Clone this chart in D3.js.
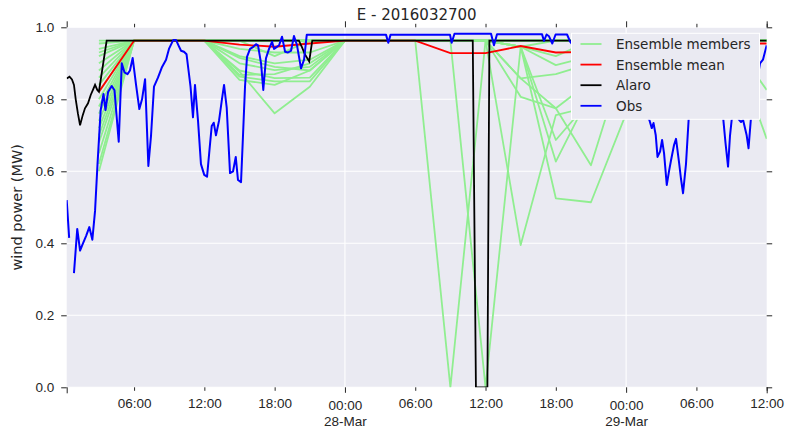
<!DOCTYPE html>
<html>
<head>
<meta charset="utf-8">
<script src="https://cdn.jsdelivr.net/npm/d3@7"></script>
<style>
  body { margin: 0; background: #ffffff; }
  svg { font-family: "DejaVu Sans", sans-serif; }
  .tick text { fill: #262626; font-size: 13.5px; }
  .tick line { stroke: #262626; }
</style>
</head>
<body>
<div id="chart"></div>
<script>
// Data (hours after 2016-03-27 00:00 UTC)
// ==============================
var obs = [
  [0.25, 0.52], [0.46, 0.415], [0.65, null], [0.87, 0.317], [1.15, 0.44], [1.39, 0.38],
  [1.64, 0.40], [1.90, 0.42], [2.18, 0.445], [2.44, 0.41], [2.67, 0.49], [2.88, 0.62],
  [3.15, 0.77], [3.39, 0.815], [3.56, 0.77], [3.78, 0.82], [4.09, 0.837], [4.33, 0.825],
  [4.69, 0.682], [4.95, 0.90], [5.18, 0.875], [5.44, 0.87], [5.65, 0.88], [5.88, 0.915],
  [6.17, 0.84], [6.45, 0.773], [6.68, 0.80], [6.94, 0.856], [7.22, 0.615], [7.45, 0.70],
  [7.70, 0.835], [8.04, 0.86], [8.39, 0.89], [8.73, 0.91], [8.98, 0.94], [9.35, 0.965],
  [9.58, 0.965], [9.79, 0.95], [10.01, 0.935], [10.26, 0.932], [10.48, 0.925], [10.65, 0.88],
  [10.82, 0.835], [11.03, 0.75], [11.20, 0.84], [11.46, 0.74], [11.71, 0.62], [11.99, 0.59],
  [12.23, 0.585], [12.44, 0.66], [12.63, 0.726], [12.80, 0.735], [12.99, 0.70], [13.25, 0.74],
  [13.50, 0.80], [13.68, 0.84], [13.91, 0.776], [14.19, 0.595], [14.45, 0.60], [14.68, 0.64],
  [14.87, 0.576], [15.13, 0.57], [15.30, 0.70], [15.47, 0.835], [15.64, 0.918], [15.90, 0.94],
  [16.15, 0.945], [16.41, 0.953], [16.58, 0.95], [16.84, 0.90], [17.03, 0.826], [17.26, 0.914],
  [17.52, 0.94], [17.78, 0.96], [17.95, 0.94], [18.16, 0.945], [18.38, 0.95], [18.63, 0.974],
  [18.89, 0.932], [19.14, 0.93], [19.40, 0.935], [19.65, 0.976], [19.91, 0.95], [20.25, 0.886],
  [20.51, 0.91], [20.74, 0.979], [27.51, 0.979], [27.70, 0.957], [27.89, 0.979], [32.97, 0.979],
  [33.11, 0.957], [33.35, 0.982], [36.47, 0.982], [36.72, 0.95], [36.98, 0.981], [40.82, 0.981],
  [40.99, 0.962], [41.21, 0.98], [41.42, 0.975], [41.70, 0.955], [41.98, 0.98], [42.96, 0.98],
  [43.22, 0.96], [43.47, 0.95], [44.50, 0.93], [45.78, 0.90], [47.06, 0.86], [48.34, 0.85],
  [49.19, 0.80], [49.62, 0.76], [49.98, 0.743], [50.19, 0.72], [50.34, 0.734], [50.53, 0.70],
  [50.68, 0.64], [50.90, 0.655], [51.07, 0.687], [51.24, 0.65], [51.47, 0.562], [51.66, 0.60],
  [51.83, 0.63], [52.09, 0.673], [52.26, 0.69], [52.51, 0.627], [52.68, 0.58], [52.86, 0.539],
  [53.11, 0.62], [53.33, 0.74], [53.54, 0.85], [53.88, 0.93], [54.31, 0.95], [54.74, 0.94],
  [55.16, 0.90], [55.59, 0.88], [56.02, 0.82], [56.30, 0.743], [56.48, 0.68], [56.70, 0.613],
  [56.87, 0.70], [57.01, 0.743], [57.30, 0.76], [57.64, 0.743], [57.81, 0.737], [57.98, 0.743],
  [58.29, 0.70], [58.45, 0.664], [58.66, 0.75], [58.92, 0.80], [59.17, 0.85], [59.43, 0.90],
  [59.68, 0.91], [60.00, 0.95]
];

var alaro = [
  [0.25, 0.858], [0.49, 0.863], [0.70, 0.855], [0.87, 0.84], [1.02, 0.80], [1.21, 0.76],
  [1.39, 0.728], [1.62, 0.756], [1.81, 0.775], [2.07, 0.789], [2.30, 0.812], [2.49, 0.826],
  [2.67, 0.84], [2.86, 0.826], [3.00, 0.821], [3.66, 0.963], [20.07, 0.963], [20.33, 0.945],
  [20.58, 0.925], [20.95, 0.905], [21.21, 0.963], [34.91, 0.963], [35.18, 0.0], [36.16, 0.0],
  [36.33, 0.963], [60.00, 0.963]
];

var ensTimes = [3, 6, 9, 12, 15, 18, 21, 24, 27, 30, 33, 36, 39, 42, 45, 48, 51, 54, 57, 60];

var ensMean = [0.821, 0.963, 0.963, 0.963, 0.952, 0.946, 0.955, 0.963, 0.963, 0.963,
               0.928, 0.928, 0.948, 0.930, 0.932, 0.940, 0.950, 0.955, 0.955, 0.955];

var members = [
  [0.60, 0.963, 0.963, 0.963, 0.94, 0.93, 0.93, 0.963, 0.963, 0.963, 0.963, 0.963, 0.963, 0.963, 0.963, 0.963, 0.963, 0.963, 0.963, 0.69],
  [0.963, 0.963, 0.963, 0.963, 0.92, 0.90, 0.91, 0.963, 0.963, 0.963, 0.963, 0.963, 0.963, 0.963, 0.963, 0.963, 0.963, 0.963, 0.963, 0.963],
  [0.70, 0.963, 0.963, 0.963, 0.915, 0.89, 0.88, 0.963, 0.963, 0.963, 0.963, 0.963, 0.963, 0.963, 0.963, 0.963, 0.963, 0.963, 0.963, 0.963],
  [0.88, 0.963, 0.963, 0.963, 0.90, 0.881, 0.89, 0.963, 0.963, 0.963, 0.963, 0.963, 0.963, 0.963, 0.963, 0.963, 0.963, 0.963, 0.963, 0.963],
  [0.65, 0.963, 0.963, 0.963, 0.88, 0.859, 0.86, 0.963, 0.963, 0.963, 0.963, 0.963, 0.963, 0.963, 0.963, 0.963, 0.963, 0.963, 0.963, 0.963],
  [0.84, 0.963, 0.963, 0.963, 0.877, 0.761, 0.835, 0.963, 0.963, 0.963, 0.963, 0.963, 0.963, 0.963, 0.963, 0.963, 0.963, 0.963, 0.963, 0.826],
  [0.76, 0.963, 0.963, 0.963, 0.868, 0.87, 0.90, 0.963, 0.963, 0.963, 0.963, 0.963, 0.963, 0.963, 0.963, 0.963, 0.963, 0.963, 0.963, 0.963],
  [0.93, 0.963, 0.963, 0.963, 0.863, 0.85, 0.85, 0.963, 0.963, 0.963, 0.963, 0.963, 0.963, 0.963, 0.963, 0.963, 0.963, 0.963, 0.963, 0.963],
  [0.72, 0.963, 0.963, 0.963, 0.854, 0.84, 0.88, 0.963, 0.963, 0.963, 0.963, 0.963, 0.963, 0.963, 0.963, 0.963, 0.963, 0.963, 0.963, 0.963],
  [0.80, 0.963, 0.963, 0.963, 0.963, 0.92, 0.963, 0.963, 0.963, 0.963, 0.963, 0.963, 0.963, 0.963, 0.963, 0.963, 0.963, 0.963, 0.963, 0.963],
  [0.955, 0.963, 0.963, 0.963, 0.963, 0.963, 0.963, 0.963, 0.963, 0.963, 0.0, 0.963, 0.946, 0.963, 0.963, 0.963, 0.963, 0.963, 0.963, 0.963],
  [0.62, 0.963, 0.963, 0.963, 0.963, 0.963, 0.963, 0.963, 0.963, 0.963, 0.963, 0.0, 0.946, 0.92, 0.963, 0.963, 0.963, 0.963, 0.963, 0.963],
  [0.90, 0.963, 0.963, 0.963, 0.963, 0.963, 0.963, 0.963, 0.963, 0.963, 0.963, 0.963, 0.395, 0.756, 0.78, 0.90, 0.963, 0.963, 0.963, 0.963],
  [0.68, 0.963, 0.963, 0.963, 0.963, 0.963, 0.963, 0.963, 0.963, 0.963, 0.963, 0.963, 0.946, 0.525, 0.514, 0.76, 0.93, 0.963, 0.963, 0.963],
  [0.86, 0.963, 0.963, 0.963, 0.963, 0.963, 0.963, 0.963, 0.963, 0.963, 0.963, 0.963, 0.946, 0.627, 0.82, 0.93, 0.963, 0.963, 0.963, 0.963],
  [0.74, 0.963, 0.963, 0.963, 0.963, 0.963, 0.963, 0.963, 0.963, 0.963, 0.963, 0.963, 0.858, 0.775, 0.617, 0.93, 0.963, 0.963, 0.963, 0.963],
  [0.94, 0.963, 0.963, 0.963, 0.963, 0.963, 0.963, 0.963, 0.963, 0.963, 0.963, 0.963, 0.946, 0.687, 0.80, 0.963, 0.963, 0.963, 0.963, 0.963],
  [0.78, 0.963, 0.963, 0.963, 0.963, 0.963, 0.963, 0.963, 0.963, 0.963, 0.963, 0.963, 0.807, 0.775, 0.85, 0.963, 0.963, 0.963, 0.963, 0.963],
  [0.82, 0.963, 0.963, 0.963, 0.963, 0.963, 0.963, 0.963, 0.963, 0.963, 0.963, 0.963, 0.946, 0.895, 0.92, 0.963, 0.963, 0.963, 0.963, 0.963],
  [0.92, 0.963, 0.963, 0.963, 0.963, 0.963, 0.963, 0.963, 0.963, 0.963, 0.963, 0.963, 0.858, 0.87, 0.90, 0.963, 0.963, 0.963, 0.963, 0.963]
];

var yTicks = [0.0, 0.2, 0.4, 0.6, 0.8, 1.0];
var legendLabels = ["Ensemble members", "Ensemble mean", "Alaro", "Obs"];
var legendColors = ["#90ee90", "#ff0000", "#000000", "#0000ff"];
var titleText = "E - 2016032700";
var yLabelText = "wind power (MW)";

// Chart area
// ==============================
var svgWidth = 789;
var svgHeight = 430;
var margin = { top: 27.3, right: 22.3, bottom: 42.7, left: 66.7 };
var width = svgWidth - margin.left - margin.right;
var height = svgHeight - margin.top - margin.bottom;

var base = Date.UTC(2016, 2, 27, 0, 0);
function toDate(h) { return new Date(base + h * 3600e3); }

var svg = d3.select("#chart")
  .append("svg")
  .attr("width", svgWidth)
  .attr("height", svgHeight);

var chartGroup = svg.append("g")
  .attr("transform", `translate(${margin.left}, ${margin.top})`);

// Scales
// ==============================
var xScale = d3.scaleUtc()
  .domain([toDate(0.25), toDate(60)])
  .range([0, width]);

var yScale = d3.scaleLinear()
  .domain([0, 1])
  .range([height, 0]);

var majorTicks = d3.utcDay.range(toDate(0.25), toDate(60));
var minorTicks = d3.utcHour.every(6).range(toDate(0.25), toDate(60.01))
  .filter(d => d.getUTCHours() !== 0);
var edgeTicks = [toDate(0.25), toDate(60)];

// Background and grid
// ==============================
chartGroup.append("rect")
  .attr("width", width)
  .attr("height", height)
  .attr("fill", "#eaeaf2");

chartGroup.selectAll(".hgrid")
  .data(yTicks)
  .join("line")
  .attr("class", "hgrid")
  .attr("x1", 0).attr("x2", width)
  .attr("y1", d => yScale(d)).attr("y2", d => yScale(d))
  .attr("stroke", "#ffffff")
  .attr("stroke-width", 1.1);

chartGroup.selectAll(".vgrid")
  .data(majorTicks)
  .join("line")
  .attr("class", "vgrid")
  .attr("x1", d => xScale(d)).attr("x2", d => xScale(d))
  .attr("y1", 0).attr("y2", height)
  .attr("stroke", "#ffffff")
  .attr("stroke-width", 1.1);

// Lines
// ==============================
svg.append("defs").append("clipPath")
  .attr("id", "plotClip")
  .append("rect")
  .attr("width", width)
  .attr("height", height);

var lineGen = d3.line()
  .defined(d => d[1] != null)
  .x(d => xScale(toDate(d[0])))
  .y(d => yScale(d[1]));

var linesGroup = chartGroup.append("g").attr("clip-path", "url(#plotClip)");

linesGroup.selectAll(".member")
  .data(members)
  .join("path")
  .attr("class", "member")
  .attr("fill", "none")
  .attr("stroke", legendColors[0])
  .attr("stroke-width", 1.8)
  .attr("stroke-linejoin", "round")
  .attr("d", m => lineGen(m.map((v, i) => [ensTimes[i], v])));

linesGroup.append("path")
  .attr("fill", "none")
  .attr("stroke", legendColors[1])
  .attr("stroke-width", 1.8)
  .attr("d", lineGen(ensMean.map((v, i) => [ensTimes[i], v])));

linesGroup.append("path")
  .attr("fill", "none")
  .attr("stroke", legendColors[2])
  .attr("stroke-width", 1.8)
  .attr("d", lineGen(alaro));

linesGroup.append("path")
  .attr("fill", "none")
  .attr("stroke", legendColors[3])
  .attr("stroke-width", 2)
  .attr("stroke-linejoin", "round")
  .attr("d", lineGen(obs));

// Axes
// ==============================
function cleanAxis(g) {
  g.select(".domain").remove();
  g.selectAll(".tick line").attr("stroke-width", 1);
}

chartGroup.append("g")
  .attr("transform", `translate(0, ${height})`)
  .call(d3.axisBottom(xScale).tickValues(minorTicks).tickSize(3.5).tickPadding(8)
    .tickFormat(d3.utcFormat("%H:%M")))
  .call(cleanAxis);

var majorAxis = chartGroup.append("g")
  .attr("transform", `translate(0, ${height})`)
  .call(d3.axisBottom(xScale).tickValues(majorTicks).tickSize(5.5).tickPadding(8)
    .tickFormat(d3.utcFormat("%H:%M")))
  .call(cleanAxis);

majorAxis.selectAll(".tick text")
  .append("tspan")
  .attr("x", 0)
  .attr("dy", "1.15em")
  .text(d => d3.utcFormat("%d-%b")(d));

chartGroup.append("g")
  .attr("transform", `translate(0, ${height})`)
  .call(d3.axisBottom(xScale).tickValues(edgeTicks).tickSize(6).tickFormat(""))
  .call(cleanAxis);

chartGroup.append("g")
  .call(d3.axisTop(xScale).tickValues(minorTicks).tickSize(3.5).tickFormat(""))
  .call(cleanAxis);

chartGroup.append("g")
  .call(d3.axisTop(xScale).tickValues(majorTicks.concat(edgeTicks)).tickSize(6).tickFormat(""))
  .call(cleanAxis);

chartGroup.append("g")
  .call(d3.axisLeft(yScale).tickValues(yTicks).tickSize(5.5).tickPadding(7)
    .tickFormat(d3.format(".1f")))
  .call(cleanAxis);

chartGroup.append("g")
  .attr("transform", `translate(${width}, 0)`)
  .call(d3.axisRight(yScale).tickValues(yTicks).tickSize(5.5).tickFormat(""))
  .call(cleanAxis);

// Title and axis label
// ==============================
svg.append("text")
  .attr("x", margin.left + width / 2)
  .attr("y", 20)
  .attr("text-anchor", "middle")
  .attr("fill", "#262626")
  .style("font-size", "15px")
  .text(titleText);

svg.append("text")
  .attr("transform", `translate(21.5, ${margin.top + height / 2}) rotate(-90)`)
  .attr("text-anchor", "middle")
  .attr("fill", "#262626")
  .style("font-size", "14.5px")
  .text(yLabelText);

// Legend
// ==============================
var legend = chartGroup.append("g")
  .attr("transform", `translate(${571.5 - margin.left}, ${33.3 - margin.top})`);

legend.append("rect")
  .attr("width", 188)
  .attr("height", 86)
  .attr("fill", "#eaeaf2")
  .attr("stroke", "#ffffff")
  .attr("stroke-width", 1);

var legendItems = legend.selectAll(".legendItem")
  .data(legendLabels)
  .join("g")
  .attr("class", "legendItem")
  .attr("transform", (d, i) => `translate(0, ${10.7 + i * 20.6})`);

legendItems.append("line")
  .attr("x1", 9).attr("x2", 30)
  .attr("stroke", (d, i) => legendColors[i])
  .attr("stroke-width", 1.8);

legendItems.append("text")
  .attr("x", 44.5)
  .attr("y", 5)
  .attr("fill", "#262626")
  .style("font-size", "13.5px")
  .text(d => d);
</script>
</body>
</html>
